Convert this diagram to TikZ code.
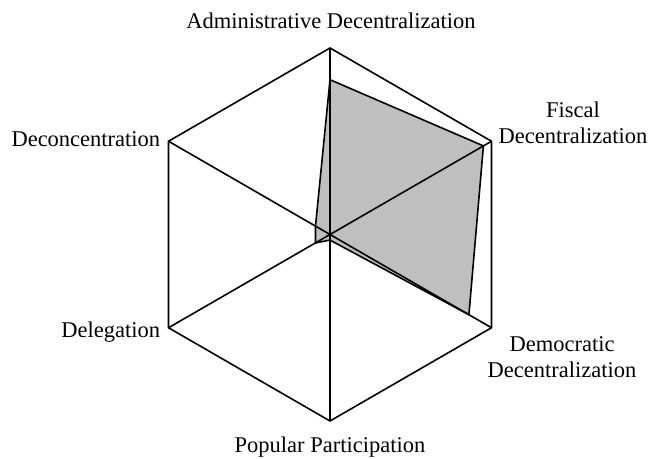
\documentclass[tikz,border=0pt]{standalone}
\usepackage{fontspec}
\setmainfont{Liberation Serif}
\begin{document}
\begin{tikzpicture}[x=1pt, y=1pt, line width=1.6pt]
\useasboundingbox (0,0) rectangle (652,458);
\tikzset{axlabel/.style={inner sep=0pt, font=\fontsize{22.5}{26.5}\selectfont}}
% axis ends and centre
\coordinate (mid) at (330,223.5);
\coordinate (ax0) at (330,410);
\coordinate (ax1) at (491.5,316.75);
\coordinate (ax2) at (491.5,130.25);
\coordinate (ax3) at (330,37);
\coordinate (ax4) at (168.5,130.25);
\coordinate (ax5) at (168.5,316.75);
% values
\coordinate (val0) at (330,378.3);
\coordinate (val1) at (483.4,312.1);
\coordinate (val2) at (468.9,143.3);
\coordinate (val3) at (330,217.9);
\coordinate (val4) at (315.5,215.1);
\coordinate (val5) at (315.5,231.9);
\draw[fill=black!25](val0) -- (val1) -- (val2) -- (val3) -- (val4) -- (val5) -- cycle;
\draw[](mid) -- (ax0);
\draw[](mid) -- (ax1);
\draw[](mid) -- (ax2);
\draw[](mid) -- (ax3);
\draw[](mid) -- (ax4);
\draw[](mid) -- (ax5);
\draw[](ax0) -- (ax1) -- (ax2) -- (ax3) -- (ax4) -- (ax5) -- cycle;
% labels
\node[axlabel, anchor=base] (lab0) at (331,429){Administrative Decentralization};
\node[axlabel, anchor=base, align=center] (lab1) at (573,314){Fiscal\\Decentralization};
\node[axlabel, anchor=base, align=center] (lab2) at (562,80.3){Democratic\\Decentralization};
\node[axlabel, anchor=base] (lab3) at (330,5.5){Popular Participation};
\node[axlabel, anchor=base east] (lab4) at (161,121){Delegation};
\node[axlabel, anchor=base east] (lab5) at (161,311.3){Deconcentration};
\end{tikzpicture}
\end{document}
